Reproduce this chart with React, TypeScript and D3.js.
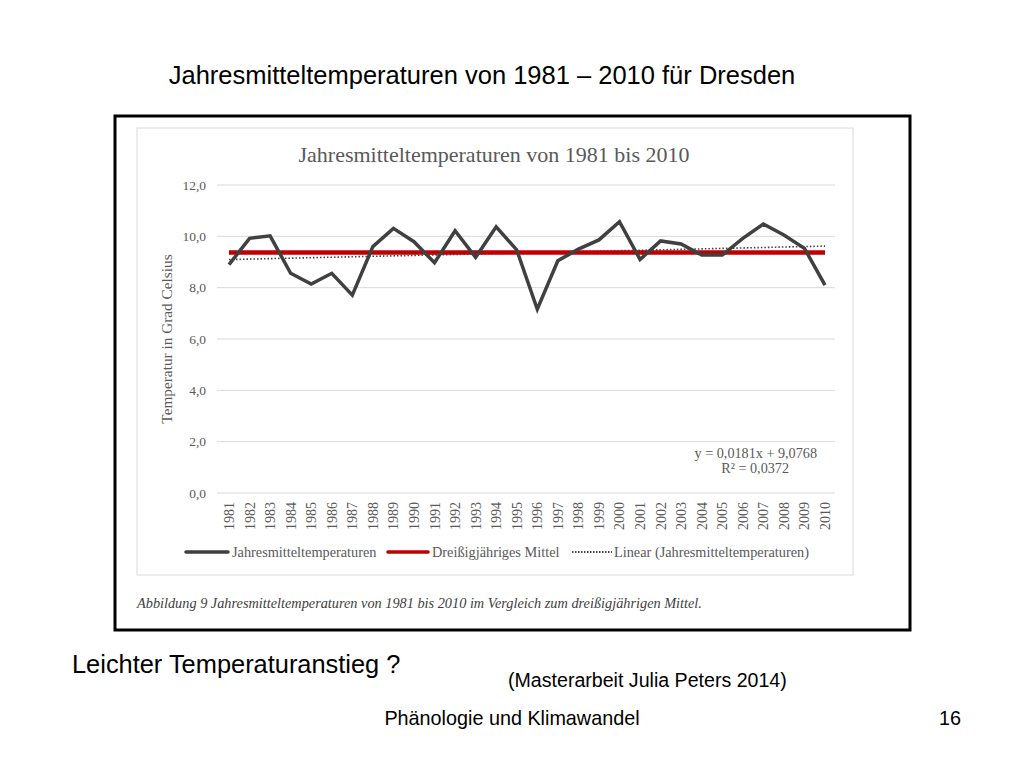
import React from "react";
import * as d3 from "d3";

const years = d3.range(1981, 2011).map(String);
const temps = [8.9, 9.92, 10.02, 8.56, 8.14, 8.56, 7.71, 9.6, 10.31, 9.79, 8.97, 10.22, 9.18, 10.37, 9.47, 7.16, 9.05, 9.5, 9.86, 10.57, 9.1, 9.82, 9.7, 9.27, 9.27, 9.92, 10.48, 10.05, 9.53, 8.1];
const yTicks = [0, 2, 4, 6, 8, 10, 12];
const trendSlope = 0.0181;
const trendIntercept = 9.0768;
const rSquared = "0,0372";
const legendLabels = ["Jahresmitteltemperaturen", "Dreißigjähriges Mittel", "Linear (Jahresmitteltemperaturen)"];

const SERIF = "'Liberation Serif', 'Times New Roman', serif";
const SANS = "'Liberation Sans', Arial, sans-serif";

export default function App() {
  const x = d3.scalePoint<string>().domain(years).range([229, 825]);
  const y = d3.scaleLinear().domain([0, 12]).range([493, 185]);
  const mean = d3.mean(temps) as number;
  const line = d3
    .line<number>()
    .x((_, i) => x(years[i]) as number)
    .y((d) => y(d));
  const trend = years.map((_, i) => trendSlope * (i + 1) + trendIntercept);
  const fmt = (v: number) => v.toFixed(1).replace(".", ",");
  const grey = "#595959";

  return (
    <svg width={1024} height={768} style={{ position: "absolute", left: 0, top: 0, background: "#fff" }}>
      <rect x={0} y={0} width={1024} height={768} fill="#fff" />
      <text x={482} y={84} textAnchor="middle" fontFamily={SANS} fontSize={25.5} fill="#000">
        Jahresmitteltemperaturen von 1981 – 2010 für Dresden
      </text>
      <rect x={115} y={116} width={795} height={514} fill="#fff" stroke="#000" strokeWidth={3} />
      <rect x={137} y={128} width={716} height={447} fill="#fff" stroke="#d9d9d9" strokeWidth={1} />
      <text x={494} y={162} textAnchor="middle" fontFamily={SERIF} fontSize={22} fill={grey}>
        Jahresmitteltemperaturen von 1981 bis 2010
      </text>
      {yTicks.map((t) => (
        <g key={t}>
          <line x1={217} x2={835} y1={y(t)} y2={y(t)} stroke="#d9d9d9" strokeWidth={1} />
          <text x={206} y={y(t) + 4.5} textAnchor="end" fontFamily={SERIF} fontSize={13.5} fill={grey}>
            {fmt(t)}
          </text>
        </g>
      ))}
      <text
        transform={`translate(172,339) rotate(-90)`}
        textAnchor="middle"
        fontFamily={SERIF}
        fontSize={15.3}
        fill={grey}
      >
        Temperatur in Grad Celsius
      </text>
      {years.map((yr) => (
        <text
          key={yr}
          transform={`translate(${(x(yr) as number) + 5},${530}) rotate(-90)`}
          textAnchor="start"
          fontFamily={SERIF}
          fontSize={14}
          fill={grey}
        >
          {yr}
        </text>
      ))}
      <path d={line(trend) || ""} fill="none" stroke="#404040" strokeWidth={1.6} strokeDasharray="1.5 2" />
      <line x1={x(years[0])} x2={x(years[years.length - 1])} y1={y(mean)} y2={y(mean)} stroke="#c00000" strokeWidth={4.5} />
      <path d={line(temps) || ""} fill="none" stroke="#404040" strokeWidth={3.5} strokeLinejoin="miter" />
      <text x={817} y={458} textAnchor="end" fontFamily={SERIF} fontSize={14.2} fill={grey}>
        y = 0,0181x + 9,0768
      </text>
      <text x={789} y={473} textAnchor="end" fontFamily={SERIF} fontSize={14.2} fill={grey}>
        R² = {rSquared}
      </text>
      {/* legend */}
      <line x1={186} x2={228} y1={552} y2={552} stroke="#404040" strokeWidth={3.5} strokeLinecap="round" />
      <text x={232} y={557} fontFamily={SERIF} fontSize={14.3} fill={grey}>{legendLabels[0]}</text>
      <line x1={388} x2={428} y1={552} y2={552} stroke="#c00000" strokeWidth={3.5} strokeLinecap="round" />
      <text x={432} y={557} fontFamily={SERIF} fontSize={14.3} fill={grey}>{legendLabels[1]}</text>
      <line x1={572} x2={612} y1={552} y2={552} stroke="#404040" strokeWidth={2} strokeDasharray="1.5 1.5" />
      <text x={614} y={557} fontFamily={SERIF} fontSize={14.3} fill={grey}>{legendLabels[2]}</text>
      <text x={137} y={608} fontFamily={SERIF} fontStyle="italic" fontSize={14.3} fill="#404040">
        Abbildung 9 Jahresmitteltemperaturen von 1981 bis 2010 im Vergleich zum dreißigjährigen Mittel.
      </text>
      <text x={72} y={673} fontFamily={SANS} fontSize={25.4} fill="#000">Leichter Temperaturanstieg ?</text>
      <text x={508} y={687} fontFamily={SANS} fontSize={19.6} fill="#000">(Masterarbeit Julia Peters 2014)</text>
      <text x={512} y={725} textAnchor="middle" fontFamily={SANS} fontSize={19.8} fill="#000">Phänologie und Klimawandel</text>
      <text x={950} y={725} textAnchor="middle" fontFamily={SANS} fontSize={19.8} fill="#000">16</text>
    </svg>
  );
}
